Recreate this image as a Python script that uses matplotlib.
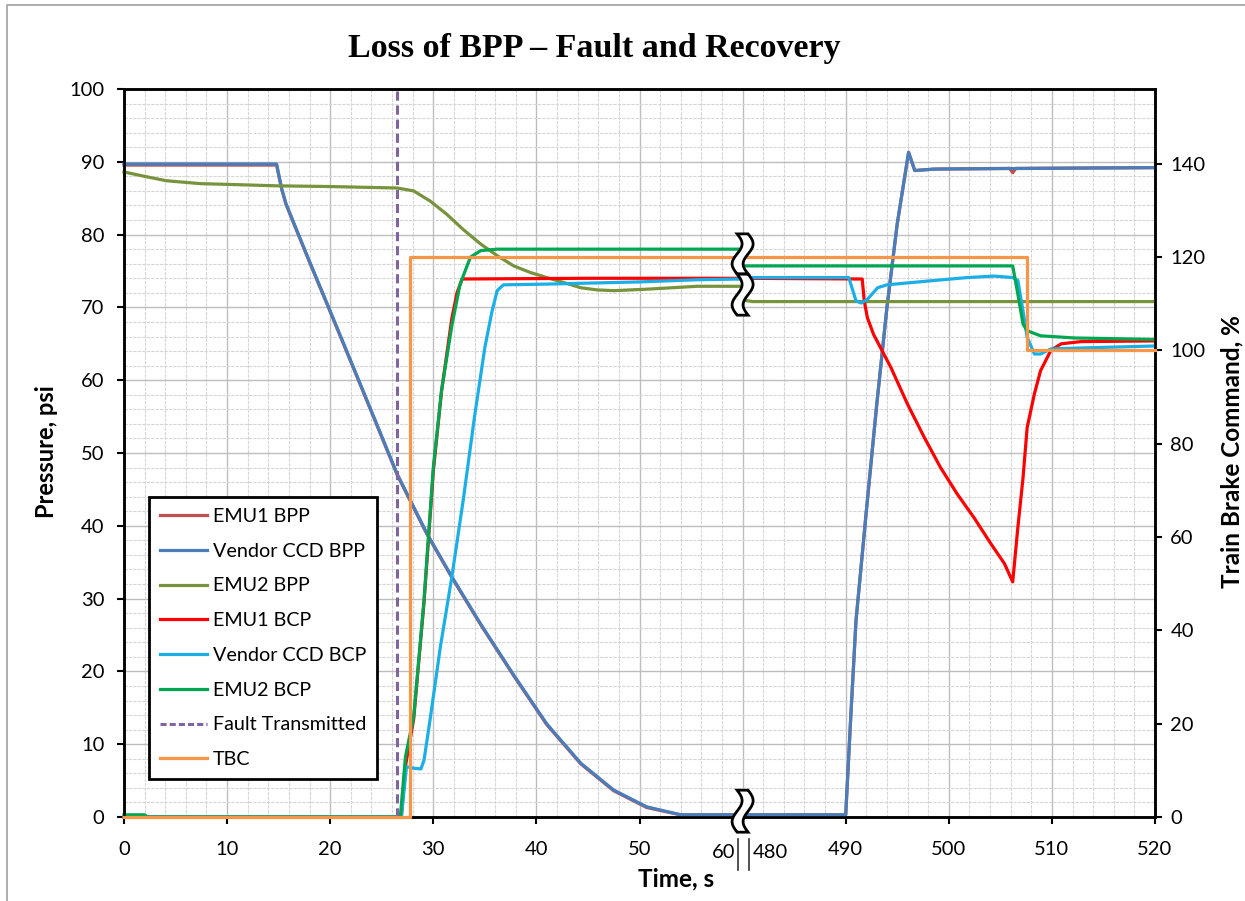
import numpy as np
import matplotlib
matplotlib.use("Agg")
import matplotlib.pyplot as plt
from matplotlib.patches import Polygon
from matplotlib.lines import Line2D
from matplotlib.transforms import Affine2D, ScaledTranslation, blended_transform_factory
from matplotlib.ticker import MultipleLocator

plt.rcParams["font.family"] = ["Lato", "DejaVu Sans"]

# ---------------------------------------------------------------- data
# time gap in the record (axis is broken between these two instants)
GAP_START, GAP_END = 60.0, 480.0

t_ccd_bpp = [0, 14.8, 15.0, 15.3, 15.7, 16.5, 18, 20, 23, 26.5, 29.4, 31.8, 34.6, 37.8, 41.0,
             44.3, 47.5, 50.7, 54, 60, 480, 490.0, 490.5, 491, 492, 493, 494, 495, 496.1,
             496.7, 498.6, 520]
p_ccd_bpp = [89.7, 89.7, 88.3, 86.3, 84.3, 81.5, 76.3, 69.5, 59.2, 47.1, 38.9, 33.0, 26.5,
             19.5, 12.8, 7.4, 3.7, 1.4, 0.3, 0.3, 0.3, 0.3, 14.0, 27.0, 42.0, 56.5, 70.0,
             81.5, 91.3, 88.8, 89.0, 89.2]

t_emu1_bpp = [0, 14.8, 15.0, 15.3, 15.7, 16.5, 18, 20, 23, 26.5, 29.4, 31.8, 34.6, 37.8, 41.0,
              44.3, 47.5, 50.7, 54, 60, 480, 490.0, 490.5, 491, 492, 493, 494, 495, 496.1,
              496.7, 498.6, 505.9, 506.2, 506.5, 520]
p_emu1_bpp = [89.55, 89.55, 88.2, 86.2, 84.2, 81.4, 76.2, 69.4, 59.1, 47.0, 38.8, 32.9, 26.4,
              19.4, 12.7, 7.3, 3.6, 1.3, 0.3, 0.3, 0.3, 0.3, 14.0, 27.0, 42.0, 56.5, 70.0,
              81.5, 91.3, 88.8, 89.0, 89.1, 88.5, 89.1, 89.2]

t_emu2_bpp = [0, 2, 4.1, 7.4, 10, 14.8, 20, 26.5, 28.1, 29.7, 31.3, 32.9, 34.6, 36.2, 37.8,
              39.4, 41.0, 42.7, 44.3, 45.9, 47.5, 50.7, 55.6, 60, 480, 481, 520]
p_emu2_bpp = [88.6, 88.0, 87.4, 87.0, 86.9, 86.7, 86.6, 86.4, 86.0, 84.6, 82.8, 80.7, 78.7, 77.1,
              75.7, 74.8, 74.1, 73.4, 72.7, 72.4, 72.3, 72.5, 72.9, 72.9, 71.0, 70.8, 70.8]

t_emu1_bcp = [0, 26.9, 27.3, 28.1, 29.1, 30.0, 30.8, 31.8, 32.3, 32.8, 45, 60, 480, 491.6,
              491.8, 492.1, 492.7, 494.4, 496.0, 497.6, 499.2, 500.8, 502.5, 504.1, 505.4,
              506.2, 506.7, 507.2, 507.6, 508.3, 508.9, 509.9, 510.9, 512.8, 520]
p_emu1_bcp = [0, 0, 7.0, 13.5, 29.5, 47.5, 58.5, 68.5, 72.0, 73.9, 74.0, 74.0, 74.0, 73.9,
              70.9, 68.6, 66.3, 61.7, 56.7, 52.2, 48.0, 44.4, 41.0, 37.5, 34.8,
              32.3, 39.8, 46.6, 53.5, 58.1, 61.3, 64.1, 65.0, 65.3, 65.4]

t_ccd_bcp = [0, 26.9, 27.4, 28.1, 28.8, 29.1, 29.7, 30.7, 31.8, 32.9, 34.0, 35.0, 35.7, 36.2,
             36.8, 41.0, 50, 55.6, 60, 480, 490.3, 491.0, 491.5, 492.1, 493.1, 494.0, 498.6,
             501.8, 504.4, 506.2, 506.7, 507.2, 507.6, 508.3, 508.9, 509.9, 512.2, 520]
p_ccd_bcp = [0, 0, 6.9, 6.7, 6.6, 7.8, 13.5, 23.5, 33.0, 43.5, 55.0, 64.5, 69.5, 72.3,
             73.1, 73.2, 73.5, 73.8, 73.9, 74.1, 74.1, 70.9, 70.6, 71.1, 72.7, 73.1, 73.7,
             74.1, 74.3, 74.1, 73.7, 69.5, 65.9, 63.6, 63.6, 64.3, 64.4, 64.7]

t_emu2_bcp = [0, 2.0, 2.3, 26.8, 27.3, 28.1, 29.1, 30.0, 30.8, 31.8, 32.6, 33.6, 34.6, 36.2,
              60, 480, 506.2, 506.7, 507.2, 507.6, 508.9, 512.2, 520]
p_emu2_bcp = [0.3, 0.3, 0, 0, 8.3, 13.8, 29.8, 48.0, 58.6, 67.5, 73.2, 76.9, 77.8, 78.0,
              78.0, 75.7, 75.7, 71.8, 67.7, 66.8, 66.1, 65.8, 65.6]

t_tbc = [0, 27.7, 27.7, 507.6, 507.6, 520]
v_tbc = [0, 0, 120, 120, 100, 100]

t_fault = 26.5

x_ticks_time = [0, 10, 20, 30, 40, 50, 60, 490, 500, 510, 520]
x_tick_labels = ["0", "10", "20", "30", "40", "50", "", "490", "500", "510", "520"]

c_emu1_bpp = "#C0504D"
c_ccd_bpp = "#4A7EBB"
c_emu2_bpp = "#77933C"
c_emu1_bcp = "#FF0000"
c_ccd_bcp = "#1AAFE6"
c_emu2_bcp = "#00A650"
c_fault = "#8064A2"
c_tbc = "#F79646"


def to_axis(t):
    """Map real time to the compressed (broken) axis position."""
    t = np.asarray(t, float)
    return np.where(t <= GAP_START, t, t - (GAP_END - GAP_START))


# ---------------------------------------------------------------- figure
W, H = 1245, 901
fig = plt.figure(figsize=(W / 100, H / 100), dpi=100)
L, R, T, B = 124, 1155, 89, 817
ax = fig.add_axes([L / W, 1 - B / H, (R - L) / W, (B - T) / H])
ax2 = ax.twinx()

ax.set_xlim(0, to_axis(520))
ax.set_ylim(0, 100)
ax2.set_ylim(0, 156)

# grid
ax.xaxis.set_major_locator(MultipleLocator(10))
ax.xaxis.set_minor_locator(MultipleLocator(2))
ax.yaxis.set_major_locator(MultipleLocator(10))
ax.yaxis.set_minor_locator(MultipleLocator(2))
ax.grid(which="major", color="#BDBDBD", lw=1.0, zorder=0)
ax.grid(which="minor", color="#D6D6D6", lw=0.8, ls=(0, (3, 1)), zorder=0)
ax.set_axisbelow(True)

ax.set_xticks(to_axis(x_ticks_time))
ax.set_xticklabels(x_tick_labels)
ax2.set_yticks(np.arange(0, 141, 20))

for a in (ax, ax2):
    for s in a.spines.values():
        s.set_linewidth(1.8)
        s.set_color("black")
TICK_FS = 14.5
ax.tick_params(axis="both", which="major", direction="out", length=5, width=1.5,
               labelsize=TICK_FS, colors="black")
ax.tick_params(axis="x", pad=12.5)
ax.tick_params(axis="y", pad=9)
ax.tick_params(which="minor", length=0)
ax2.tick_params(axis="y", direction="out", length=5, width=1.5, labelsize=TICK_FS, pad=6)

lw = 2.3
series = [
    (t_emu1_bpp, p_emu1_bpp, c_emu1_bpp, "EMU1 BPP"),
    (t_ccd_bpp, p_ccd_bpp, c_ccd_bpp, "Vendor CCD BPP"),
    (t_emu2_bpp, p_emu2_bpp, c_emu2_bpp, "EMU2 BPP"),
    (t_emu1_bcp, p_emu1_bcp, c_emu1_bcp, "EMU1 BCP"),
    (t_ccd_bcp, p_ccd_bcp, c_ccd_bcp, "Vendor CCD BCP"),
    (t_emu2_bcp, p_emu2_bcp, c_emu2_bcp, "EMU2 BCP"),
]
handles = []
for i, (t, p, c, name) in enumerate(series):
    (ln,) = ax.plot(to_axis(t), p, color=c, lw=lw, label=name, zorder=3 + i * 0.01,
                    clip_on=False, solid_joinstyle="round")
    handles.append(ln)

ax.axvline(to_axis(t_fault), color=c_fault, lw=2.2, ls=(0, (3, 1.6)), zorder=3.2)
handles.append(Line2D([], [], color=c_fault, lw=2.2, ls=(0, (2, 1)), label="Fault Transmitted"))

(tbc_ln,) = ax2.plot(to_axis(t_tbc), v_tbc, color=c_tbc, lw=lw, label="TBC", zorder=3,
                     clip_on=False)
handles.append(tbc_ln)


# axis-break symbols (white wavy ribbons with black outline)
def break_ribbon(y_center, height, periods=1, amp=5.0, width=11.0):
    s = np.linspace(0, 1, 80)
    yy = height / 2 - height * s
    xc = amp * np.sin(2 * np.pi * periods * s)
    verts = np.vstack([np.column_stack([xc - width / 2, yy]),
                       np.column_stack([(xc + width / 2)[::-1], yy[::-1]])])
    tr = Affine2D().scale(fig.dpi / 100.0) + ScaledTranslation(
        float(to_axis(GAP_START)), y_center, ax.transData)
    poly = Polygon(verts, closed=True, facecolor="white", edgecolor="black", lw=2.0,
                   transform=tr, clip_on=False, zorder=10)
    ax2.add_patch(poly)


break_ribbon(77.35, 40)
break_ribbon(71.75, 41)
break_ribbon(0.8, 42)

# "60 || 480" label at the break
bt = blended_transform_factory(ax.transData, ax.transAxes)
xb = float(to_axis(GAP_START))


def px_offset(dx, dy):
    return bt + ScaledTranslation(dx / 100.0, dy / 100.0, fig.dpi_scale_trans)


ax.text(xb, 0, "60", transform=px_offset(-7, -35), ha="right", va="center",
        fontsize=TICK_FS)
ax.text(xb, 0, "480", transform=px_offset(10, -35), ha="left", va="center",
        fontsize=TICK_FS)
for dx in (-5.0, 6.0):
    seg = Line2D([0, 0], [-22, -53], color="#333333", lw=1.2, clip_on=False,
                 transform=Affine2D().translate(dx, 0).scale(fig.dpi / 100.0)
                 + ScaledTranslation(xb, 0, bt))
    ax.add_line(seg)

# legend
LEG_FS = 14.2
leg = ax2.legend(handles=handles, loc="lower left",
                 bbox_to_anchor=((149 - L) / (R - L), (B - 779) / (B - T)),
                 borderaxespad=0, fontsize=LEG_FS, frameon=True, fancybox=False,
                 handlelength=2.4, handletextpad=0.3, labelspacing=0.9,
                 borderpad=0.55, framealpha=1)
leg.get_frame().set_edgecolor("black")
leg.get_frame().set_linewidth(2.0)
leg.set_zorder(20)

# titles and axis labels
fig.text(594 / W, 1 - 48 / H, "Loss of BPP \u2013 Fault and Recovery",
         ha="center", va="center", fontsize=24.5, fontweight="bold",
         family=["Liberation Serif", "DejaVu Serif"])
fig.text(47 / W, 1 - 452 / H, "Pressure, psi", rotation=90, ha="center", va="center",
         fontsize=17, fontweight="bold")
fig.text(1232 / W, 1 - 452 / H, "Train Brake Command, %", rotation=90, ha="center",
         va="center", fontsize=17.5, fontweight="bold")
fig.text(676 / W, 1 - 879 / H, "Time, s", ha="center", va="center", fontsize=17.5,
         fontweight="bold")

# outer frame (left and top edges visible)
fig.add_artist(Line2D([7 / W, 7 / W, 1.0], [0.0, 1 - 5 / H, 1 - 5 / H],
                      transform=fig.transFigure, color="#A0A0A0", lw=1.2))

fig.savefig("out.png", dpi=100)
